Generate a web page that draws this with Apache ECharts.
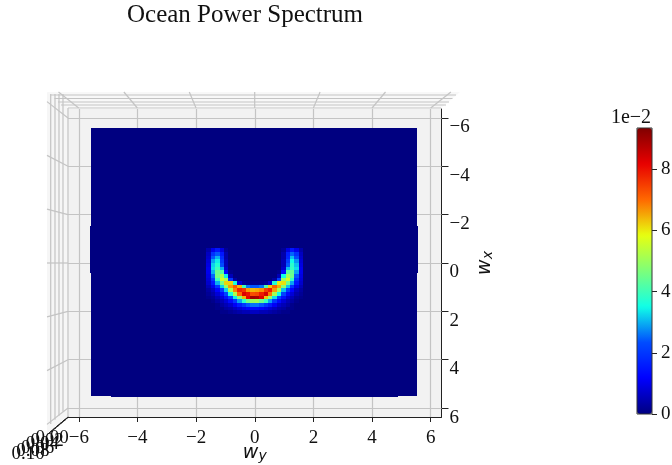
<!DOCTYPE html>
<html><head><meta charset="utf-8">
<style>html,body{margin:0;padding:0;background:#fff}#c{width:672px;height:465px}</style>
<script src="https://cdn.jsdelivr.net/npm/echarts@6/dist/echarts.min.js"></script>
</head><body><div id="c"></div>
<script>
// Spectrum values, units of 1e-2. Rows run wx from -0.6 downward, columns wy from -1.65.
const cellSize = 0.15;
const patchWyStart = -1.65;
const patchWxStart = -0.6;
const power = [
 [.4,1.0,1.5,.9,.2,0,0,0,0,0,0, 0,0,0,0,0,0,.2,.9,1.5,1.0,.4],
 [.6,1.9,2.4,1.5,.4,0,0,0,0,0,0, 0,0,0,0,0,0,.4,1.6,2.5,1.9,.6],
 [.7,2.4,3.0,1.8,.4,0,0,0,0,0,0, 0,0,0,0,0,0,.4,1.7,3.1,2.3,.7],
 [.8,2.9,3.4,2.0,.5,0,0,0,0,0,0, 0,0,0,0,0,0,.5,2.1,3.5,2.8,.8],
 [.9,3.2,3.7,2.3,.5,0,0,0,0,0,0, 0,0,0,0,0,0,.5,2.4,3.8,3.1,.9],
 [1.0,3.3,4.0,3.0,.7,0,0,0,0,0,0, 0,0,0,0,0,0,.7,3.1,3.9,3.3,1.0],
 [1.0,3.0,4.5,4.2,1.2,.1,0,0,0,0,0, 0,0,0,0,0,.1,1.3,4.3,4.4,2.9,1.0],
 [.9,2.5,4.6,5.2,3.4,.5,0,0,0,0,0, 0,0,0,0,0,.5,3.5,5.1,4.5,2.4,.9],
 [.8,2.0,4.0,5.6,5.2,2.0,.3,0,0,0,0, 0,0,0,0,.3,2.1,5.0,5.7,3.9,1.9,.8],
 [.7,1.5,3.0,4.6,6.2,6.2,3.6,.8,.2,.1,.1, .1,.1,.2,.8,3.7,6.0,6.1,4.5,2.9,1.5,.7],
 [.5,1.0,2.0,3.2,4.9,6.6,7.2,6.4,4.0,2.6,2.4, 2.4,2.6,4.2,6.2,7.1,6.5,4.8,3.1,1.9,1.0,.5],
 [.3,.6,1.2,2.1,3.2,5.2,6.8,7.8,7.6,6.6,6.4, 6.5,6.7,7.5,7.9,6.6,5.1,3.1,2.1,1.2,.6,.3],
 [.2,.4,.8,1.3,2.2,3.6,5.2,7.0,8.3,8.0,7.3, 7.4,7.9,8.4,6.9,5.1,3.5,2.2,1.3,.8,.4,.2],
 [.1,.2,.5,.8,1.4,2.2,3.4,4.8,6.4,8.2,9.0, 8.9,8.3,6.3,4.9,3.3,2.2,1.4,.8,.5,.2,.1],
 [0,.1,.3,.5,.8,1.3,2.0,2.9,3.8,4.6,5.0, 5.1,4.5,3.9,2.9,2.0,1.3,.8,.5,.3,.1,0],
 [0,0,.1,.3,.5,.7,1.1,1.6,2.0,2.4,2.6, 2.6,2.4,2.0,1.6,1.1,.7,.5,.3,.1,0,0],
 [0,0,.1,.1,.3,.4,.6,.8,1.0,1.2,1.3, 1.3,1.2,1.0,.8,.6,.4,.3,.1,.1,0,0],
 [0,0,0,.1,.1,.2,.3,.4,.5,.5,.6, .6,.5,.5,.4,.3,.2,.1,.1,0,0,0]
];
// Quiet part of the spectrum: [wy0, wy1, wx0, wx1, power]
const quietCells = [
 [-5.58, 5.54, -5.6, 5.5, 0],
 [-4.9, 4.9, 5.5, 5.55, 0],
 [-5.62, -5.58, -1.55, 0.4, 0],
 [5.54, 5.58, -1.55, 0.4, 0]
];
const wyTicks = [-6,-4,-2,0,2,4,6];
const wxTicks = [-6,-4,-2,0,2,4,6];
const barTicks = [0,2,4,6,8];
const depthTicks = ['0.00','0.02','0.04','0.06','0.08','0.10'];
const axisMin = -6.37, axisMax = 6.37, barMax = 9.35;
const jet = ['#000080','#0000ff','#004cff','#10ffe7','#7dff7a','#e7ff10','#ff6800','#e80000','#800000'];

const serif = '"Liberation Serif"';
const fmt = v => String(v).replace('-', '\u2212');
const cells = quietCells.slice();
power.forEach((row, j) => row.forEach((v, i) => {
  if (v > 0) {
    const y0 = patchWyStart + i * cellSize, x0 = patchWxStart + j * cellSize;
    cells.push([y0, y0 + cellSize, x0, x0 + cellSize, v]);
  }
}));

const gridColor = '#c4c4c4';
const gl = (x1, y1, x2, y2, stroke, w) => ({type:'line', z:1, silent:true,
  shape:{x1,y1,x2,y2}, style:{stroke:stroke||gridColor, lineWidth:w||1.2}});
const decor = [
  {type:'polygon', z:0, silent:true, shape:{points:[[47,92],[460,92],[441,108],[68,108]]}, style:{fill:'#f8f8f8'}},
  {type:'polygon', z:0, silent:true, shape:{points:[[47,92],[68,108],[68,417],[47,437]]}, style:{fill:'#f6f6f6'}}
];
// projected panes of the 3D box
[95,98.5,102,105].forEach(y => decor.push(gl(48 + (y-92)*1.0, y, 459 - (y-92)*1.0, y)));
[50.7,55,59,63].forEach(x => decor.push(gl(x, 94, x, 424 - (x-50.7)*1.0)));
wyTicks.forEach(t => {
  const x = 254.7 + t * 29.33;
  decor.push(gl(254.7 + t * 32.7, 92, x, 108));
});
wxTicks.forEach(t => {
  const y = 263 + t * 24.17;
  decor.push(gl(47, 263 + t * 26.9, 68, y));
});
decor.push(gl(68,108,68,417), gl(68,108,441,108));
decor.push(gl(68,417,49,433,'#222',1));
depthTicks.forEach((s, i) => {
  const x = 66 - i * 3.2, y = 419 + i * 2.7;
  decor.push(gl(x-3, y+2, x+3, y-2, '#222', 1));
  decor.push({type:'text', z:5, silent:true, x: 52 - i * 4.8, y: 438 + i * 3.2,
    style:{text:s, font:'19px '+serif, fill:'#111', align:'center', verticalAlign:'middle'}});
});
decor.push({type:'text', z:5, silent:true, x:631, y:118,
  style:{text:'1e\u22122', font:'20px '+serif, fill:'#111', align:'center', verticalAlign:'middle'}});

const mathRich = {
  w:{fontFamily:'"DejaVu Sans"', fontStyle:'oblique', fontSize:19, color:'#111'},
  s:{fontFamily:'"DejaVu Sans"', fontStyle:'oblique', fontSize:14, color:'#111', verticalAlign:'bottom', padding:[6,0,0,0]}
};
const lineBlack = {lineStyle:{color:'#222', width:1}};

const chart = echarts.init(document.getElementById('c'), null, {renderer:'canvas'});
chart.setOption({
  animation:false,
  backgroundColor:'#fff',
  title:{text:'Ocean Power Spectrum', left:127, top:3, padding:0, textStyle:{fontFamily:serif, fontSize:25, fontWeight:'normal', color:'#111'}},
  graphic:{elements:decor},
  grid:[
    {left:68, top:109, width:373.5, height:308, show:true, backgroundColor:'#f2f2f2', borderWidth:0, outerBoundsMode:'none'},
    {left:637, top:128, width:15, height:286, show:true, backgroundColor:'transparent', borderColor:'#333', borderWidth:1, z:10, outerBoundsMode:'none'}
  ],
  xAxis:[
    {type:'value', gridIndex:0, min:axisMin, max:axisMax, position:'bottom',
     name:'{w|w}{s|y}', nameLocation:'middle', nameGap:26, nameMoveOverlap:false, nameTextStyle:{rich:mathRich},
     axisLine:{show:true,onZero:false,...lineBlack},
     axisTick:{show:true,length:5,customValues:wyTicks,...lineBlack},
     axisLabel:{customValues:wyTicks, formatter:fmt, fontFamily:serif, fontSize:19, color:'#111', margin:12},
     splitLine:{show:false}},
    {type:'value', gridIndex:0, min:axisMin, max:axisMax, position:'bottom',
     axisLine:{show:false,onZero:false},
     axisTick:{show:true,inside:true,length:4,customValues:wyTicks,...lineBlack},
     axisLabel:{show:false}, splitLine:{show:false}},
    {type:'value', gridIndex:1, min:0, max:1, show:false}
  ],
  yAxis:[
    {type:'value', gridIndex:0, min:axisMin, max:axisMax, inverse:true, position:'right',
     name:'{w|w}{s|x}', nameLocation:'middle', nameGap:34, nameMoveOverlap:false, nameRotate:90, nameTextStyle:{rich:mathRich},
     axisLine:{show:true,onZero:false,...lineBlack},
     axisTick:{show:true,length:7,customValues:wxTicks,...lineBlack},
     axisLabel:{customValues:wxTicks, formatter:fmt, fontFamily:serif, fontSize:19, color:'#111', margin:8, verticalAlign:'top'},
     splitLine:{show:false}},
    {type:'value', gridIndex:0, min:axisMin, max:axisMax, inverse:true, position:'right',
     axisLine:{show:false,onZero:false},
     axisTick:{show:true,inside:true,length:3,customValues:wxTicks,...lineBlack},
     axisLabel:{show:false}, splitLine:{show:false}},
    {type:'value', gridIndex:1, min:0, max:barMax, position:'right',
     axisLine:{show:false,onZero:false},
     axisTick:{show:true,length:5,customValues:barTicks,...lineBlack},
     axisLabel:{customValues:barTicks, fontFamily:serif, fontSize:19, color:'#111', margin:9},
     splitLine:{show:false}}
  ],
  visualMap:{type:'continuous', seriesIndex:2, dimension:4, min:0, max:barMax, calculable:false, hoverLink:false,
    left:637, top:128, itemWidth:15, itemHeight:286, text:['',''], showLabel:false, padding:0,
    inRange:{color:jet}},
  series:[
    {type:'line', xAxisIndex:0, yAxisIndex:0, silent:true, symbol:'none', data:[],
     markLine:{silent:true, symbol:'none', label:{show:false}, z:1,
       lineStyle:{color:gridColor, width:1.2, type:'solid'},
       data:wyTicks.map(t => ({xAxis:t}))}},
    {type:'line', xAxisIndex:0, yAxisIndex:0, silent:true, symbol:'none', data:[],
     markLine:{silent:true, symbol:'none', label:{show:false}, z:1,
       lineStyle:{color:gridColor, width:1.2, type:'solid'},
       data:wxTicks.map(t => ({yAxis:t}))}},
    {type:'custom', xAxisIndex:0, yAxisIndex:0, z:3, silent:true,
     encode:{x:[0,1], y:[2,3]},
     data:cells,
     renderItem(params, api){
       const a = api.coord([api.value(0), api.value(2)]);
       const b = api.coord([api.value(1), api.value(3)]);
       const x = Math.round(a[0]), y = Math.round(a[1]);
       return {type:'rect', shape:{x, y, width:Math.round(b[0])-x, height:Math.round(b[1])-y},
         style:{fill:api.visual('color')}};
     }}
  ]
});
</script></body></html>
